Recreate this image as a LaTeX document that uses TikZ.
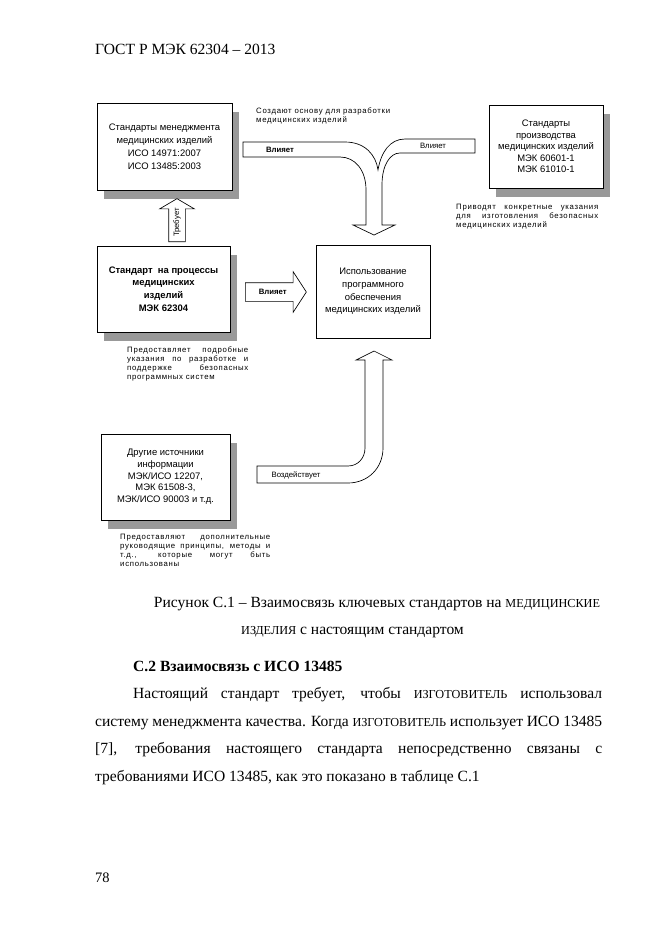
\documentclass[tikz,border=0pt]{standalone}
\usepackage{fontspec}
\setmainfont{Liberation Serif}
\newfontfamily\arial{Liberation Sans}
\newfontfamily\capfont[LetterSpace=9]{Liberation Sans}
\usetikzlibrary{shapes.arrows,shadows,positioning}
\newcommand{\smc}[1]{{\fontsize{11}{11}\selectfont #1}}
\newcommand{\jl}[2]{\makebox[#1][s]{#2}}

\begin{document}
\begin{tikzpicture}[x=0.9pt,y=-0.9pt,
    box/.style={draw, fill=white, line width=0.6pt, align=center, inner sep=1pt, font=\arial\fontsize{8.5}{11.4}\selectfont},
    shadowed/.style={drop shadow={shadow xshift=6.5pt, shadow yshift=-8.5pt, fill=black!40, opacity=1}},
    note/.style={anchor=north west, inner sep=0pt, align=left, font=\capfont\fontsize{7}{8.2}\selectfont},
    lbl/.style={inner sep=0pt, font=\arial\fontsize{7}{7}\selectfont},
    blk/.style={draw, fill=white, line width=0.6pt},
    sarrow/.style={single arrow, draw, fill=white, line width=0.6pt, single arrow head indent=0pt, text height=5pt, text depth=1.2pt, inner xsep=0pt, font=\arial\fontsize{7}{7}\selectfont},
    body/.style={anchor=base west, inner sep=0pt, font=\fontsize{14}{14}\selectfont}
]
\path[use as bounding box, fill=white] (0,0) rectangle (661,935);

% page head
\node[body] (hdr) at (95,54) {ГОСТ Р МЭК 62304 – 2013};

% standards boxes
\node[box, shadowed, minimum width=121.5pt, minimum height=78.3pt, font=\arial\fontsize{8.5}{11.7}\selectfont] (mgmt) at (164.5,146.5) {Стандарты менеджмента\\медицинских изделий\\ИСО 14971:2007\\ИСО 13485:2003};
\node[box, shadowed, minimum width=102.6pt, minimum height=74.7pt, font=\arial\fontsize{8.5}{10.3}\selectfont] (prod) at (546,146.5) {Стандарты\\производства\\медицинских изделий\\МЭК 60601-1\\МЭК 61010-1};
\node[box, shadowed, minimum width=119.7pt, minimum height=77.4pt, font=\arial\bfseries\fontsize{8.5}{11.4}\selectfont] (proc) at (163.5,289) {Стандарт\ \ на процессы\\медицинских\\изделий\\МЭК 62304};
\node[box, minimum width=102.6pt, minimum height=83.7pt] (use) at (373,291.5) {Использование\\программного\\обеспечения\\медицинских изделий};
\node[box, shadowed, minimum width=116.1pt, minimum height=77.4pt, font=\arial\fontsize{8.5}{10.5}\selectfont] (other) at (165.5,477) {Другие источники\\информации\\МЭК/ИСО 12207,\\МЭК 61508-3,\\МЭК/ИСО 90003 и т.д.};

% straight block arrows
\node[sarrow, rotate=90, anchor=tail, minimum height=38.7pt, minimum width=30.6pt, inner ysep=4.1pt, single arrow tip angle=119, single arrow head extend=8.1pt] (reqArr) at (177,242) {Требует};
\node[sarrow, anchor=tail, minimum height=54.9pt, minimum width=36pt, inner ysep=5pt, single arrow tip angle=114, single arrow head extend=9.9pt, font=\arial\bfseries\fontsize{7}{7}\selectfont] (infArr) at (245,292) {Влияет};

% merging arrow at the top
\draw[blk] (243,142) -- (345,142) .. controls (365,142) and (376,155) .. (378,170)
  .. controls (381,152) and (390,139) .. (405,139) -- (475,139) -- (475,153) -- (400,153)
  .. controls (390,153) and (382,165) .. (382,185) -- (382,225) -- (395,225) -- (374,235)
  -- (353,225) -- (366,225) -- (366,190) .. controls (366,170) and (355,157) .. (340,157)
  -- (243,157) -- cycle;
\node[lbl, font=\arial\bfseries\fontsize{7}{7}\selectfont] (lblL) at (280,149.5) {Влияет};
\node[lbl] (lblR) at (433,146) {Влияет};

% bent arrow at the bottom
\draw[blk] (257,466) -- (348,466) .. controls (358,466) and (365,458) .. (365,448)
  -- (365,360) -- (356,360) -- (374,351) -- (392,360) -- (383,360) -- (383,448)
  .. controls (383,468) and (368,483) .. (348,483) -- (257,483) -- cycle;
\node[lbl] (lblV) at (296,475) {Воздействует};

% notes
\node[note] (noteMgmt) at (256,107.5) {Создают основу для разработки\\медицинских изделий};
\node[note] (noteProd) at (456,204) {\jl{127.8pt}{Приводят конкретные указания}\\\jl{127.8pt}{для изготовления безопасных}\\медицинских изделий};
\node[note] (noteProc) at (127,346.5) {\jl{109pt}{Предоставляет подробные}\\\jl{109pt}{указания по разработке и}\\\jl{109pt}{поддержке безопасных}\\программных систем};
\node[note] (noteOther) at (120,533.5) {\jl{135pt}{Предоставляют дополнительные}\\\jl{135pt}{руководящие принципы, методы и}\\\jl{135pt}{т.д., которые могут быть}\\использованы};

% caption and text
\node[body, anchor=base] (figcapA) at (377,607) {Рисунок С.1 – Взаимосвязь ключевых стандартов на \smc{МЕДИЦИНСКИЕ}};
\node[body, anchor=base] (figcapB) at (352.5,634) {\smc{ИЗДЕЛИЯ} с настоящим стандартом};
\node[body, font=\bfseries\fontsize{14}{14}\selectfont] (sec) at (133,671) {С.2 Взаимосвязь с ИСО 13485};
\node[body] (parA) at (133,698) {\jl{422pt}{Настоящий стандарт требует, чтобы \smc{ИЗГОТОВИТЕЛЬ} использовал}};
\node[body] (parB) at (95,726) {\jl{456.3pt}{систему менеджмента качества. Когда \smc{ИЗГОТОВИТЕЛЬ} использует ИСО 13485}};
\node[body] (parC) at (95,753) {\jl{456.3pt}{[7], требования настоящего стандарта непосредственно связаны с}};
\node[body] (parD) at (95,781) {требованиями ИСО 13485, как это показано в таблице С.1};
\node[body, font=\fontsize{13}{13}\selectfont] (pgno) at (95,882) {78};
\end{tikzpicture}
\end{document}
